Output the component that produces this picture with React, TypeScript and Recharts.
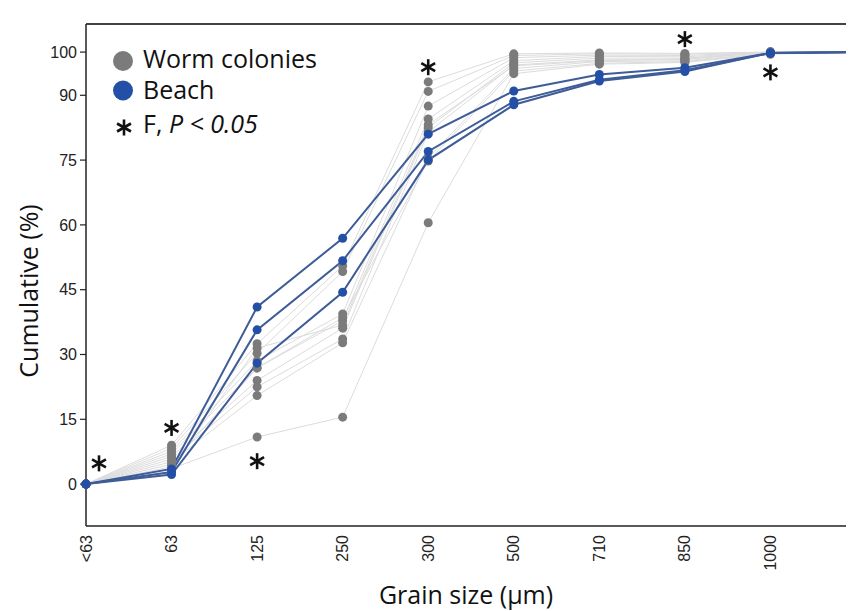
import React from 'react';
import { ComposedChart, Line, XAxis, YAxis, ReferenceLine, Label, Legend } from 'recharts';

const grainSizes = ['<63', '63', '125', '250', '300', '500', '710', '850', '1000', '2000'];

const worm1 = [0, 9.0, 32.5, 50.5, 93.1, 99.6, 99.8, 99.7, 100, 100];
const worm2 = [0, 8.3, 30.3, 49.2, 90.9, 99.2, 99.6, 99.5, 100, 100];
const worm3 = [0, 7.6, 28.5, 39.4, 87.5, 98.7, 99.3, 99.2, 100, 100];
const worm4 = [0, 7.0, 26.9, 37.8, 84.5, 98.0, 99.0, 98.9, 100, 100];
const worm5 = [0, 6.4, 24.0, 36.1, 82.5, 97.5, 98.6, 98.6, 100, 100];
const worm6 = [0, 5.8, 22.5, 33.6, 81.5, 97.0, 98.2, 98.3, 100, 100];
const worm7 = [0, 5.2, 20.5, 32.7, 75.5, 96.2, 97.8, 98.0, 99.8, 100];
const worm8 = [0, 4.6, 26.9, 38.5, 74.8, 95.6, 97.4, 97.8, 99.7, 100];
const worm9 = [0, 4.0, 31.5, 36.8, 83.2, 96.8, 98.0, 98.4, 100, 100];
const worm10 = [0, 3.6, 10.9, 15.5, 60.5, 95.0, 97.2, 97.6, 99.5, 100];

const beach1 = [0, 3.5, 41.0, 56.9, 81.0, 91.0, 94.8, 96.4, 99.8, 100];
const beach2 = [0, 2.8, 35.7, 51.7, 77.0, 88.6, 93.6, 95.8, 99.8, 100];
const beach3 = [0, 2.2, 28.0, 44.4, 75.0, 87.8, 93.3, 95.5, 99.8, 100];

const starValues = [4.8, 13, 5.3, null, 96.5, null, null, 103, 95.3, null];

const yTicks = [0, 15, 30, 45, 60, 75, 90, 100];
const yDomain = [-9.7, 106.5];

const wormSeries = [worm1, worm2, worm3, worm4, worm5, worm6, worm7, worm8, worm9, worm10];
const beachSeries = [beach1, beach2, beach3];

const data = grainSizes.map((size, i) => {
  const row: any = { size, star: starValues[i] };
  wormSeries.forEach((s, k) => (row[`w${k}`] = s[i]));
  beachSeries.forEach((s, k) => (row[`b${k}`] = s[i]));
  return row;
});

const GRAY_DOT = '#7b7b7b';
const GRAY_LINE = '#dcdcdc';
const BLUE_DOT = '#2350a6';
const BLUE_LINE = '#3e5c98';
const TITLE_FONT = '"Open Sans", "Noto Sans", sans-serif';
const TICK_FONT = '"Liberation Sans", Arial, sans-serif';

const Asterisk = ({ x, y, r = 8 }: { x: number; y: number; r?: number }) => {
  const c = Math.cos(Math.PI / 6) * r;
  const s = Math.sin(Math.PI / 6) * r;
  return (
    <g stroke="#111" strokeWidth={2.6} strokeLinecap="butt">
      <line x1={x} y1={y - r} x2={x} y2={y + r} />
      <line x1={x - c} y1={y - s} x2={x + c} y2={y + s} />
      <line x1={x - c} y1={y + s} x2={x + c} y2={y - s} />
    </g>
  );
};

const StarDot = (props: any) => {
  const { cx, cy, payload, index } = props;
  if (cx == null || cy == null || payload == null || payload.star == null) return <g key={`s${index}`} />;
  const dx = payload.size === '<63' ? 13 : 0;
  return (
    <g key={`s${index}`}>
      <Asterisk x={cx + dx} y={cy} />
    </g>
  );
};

const XTick = (props: any) => {
  const { x, y, payload } = props;
  return (
    <g transform={`translate(${x},${y + 9})`}>
      <text
        x={0}
        y={0}
        dy="0.35em"
        transform="rotate(-90)"
        textAnchor="end"
        fontSize={16}
        fontFamily={TICK_FONT}
        fill="#222"
      >
        {payload.value}
      </text>
    </g>
  );
};

const LegendContent = () => (
  <svg width={260} height={110} style={{ display: 'block' }}>
    <circle cx={23} cy={21} r={10} fill={GRAY_DOT} />
    <text x={43} y={28} fontSize={25} fontFamily={TITLE_FONT} fill="#111">
      Worm colonies
    </text>
    <circle cx={23} cy={50.5} r={10} fill={BLUE_DOT} />
    <text x={43} y={59} fontSize={25} fontFamily={TITLE_FONT} fill="#111">
      Beach
    </text>
    <Asterisk x={24} y={87.5} />
    <text x={43} y={93} fontSize={25} fontFamily={TITLE_FONT} fill="#111">
      F, <tspan fontStyle="italic">P &lt; 0.05</tspan>
    </text>
  </svg>
);

export default function App() {
  return (
    <div style={{ position: 'relative', width: 846, height: 603, overflow: 'hidden', background: '#fff' }}>
      <ComposedChart
        width={868}
        height={603}
        data={data}
        margin={{ top: 16, right: 20, bottom: 0, left: 0 }}
      >
        <XAxis
          dataKey="size"
          type="category"
          interval={0}
          tick={<XTick />}
          tickLine={false}
          tickSize={0}
          tickMargin={0}
          height={85}
          axisLine={{ stroke: '#222', strokeWidth: 1.5 }}
        >
          <Label
            content={() => (
              <text x={458} y={596} textAnchor="middle" fontSize={25} fontFamily={TITLE_FONT} fill="#111">
                Grain size (µm)
              </text>
            )}
          />
        </XAxis>
        <YAxis
          type="number"
          domain={yDomain}
          ticks={yTicks}
          allowDataOverflow
          width={78}
          tickSize={6}
          tickMargin={3}
          tick={{ fontSize: 16, fontFamily: TICK_FONT, fill: '#222' }}
          tickLine={{ stroke: '#222', strokeWidth: 1.2 }}
          axisLine={{ stroke: '#222', strokeWidth: 1.5 }}
        >
          <Label
            content={() => (
              <text
                x={20}
                y={283}
                transform="rotate(-90 20 283)"
                textAnchor="middle"
                dominantBaseline="central"
                fontSize={25}
                fontFamily={TITLE_FONT}
                fill="#111"
              >
                Cumulative (%)
              </text>
            )}
          />
        </YAxis>
        <ReferenceLine y={yDomain[1]} stroke="#444" strokeWidth={2} ifOverflow="extendDomain" />
        <Legend
          layout="horizontal"
          verticalAlign="middle"
          align="center"
          wrapperStyle={{ top: 32, left: 92, width: 260, height: 110 }}
          content={<LegendContent />}
        />
        {wormSeries.map((_, k) => (
          <Line
            key={`wl${k}`}
            dataKey={`w${k}`}
            stroke={GRAY_LINE}
            strokeWidth={1}
            dot={false}
            activeDot={false}
            isAnimationActive={false}
            legendType="none"
          />
        ))}
        {wormSeries.map((_, k) => (
          <Line
            key={`wd${k}`}
            dataKey={`w${k}`}
            stroke="none"
            dot={{ r: 4.5, fill: GRAY_DOT, stroke: 'none' }}
            activeDot={false}
            isAnimationActive={false}
            legendType="none"
          />
        ))}
        {beachSeries.map((_, k) => (
          <Line
            key={`bl${k}`}
            dataKey={`b${k}`}
            stroke={BLUE_LINE}
            strokeWidth={2}
            dot={{ r: 4.5, fill: BLUE_DOT, stroke: 'none' }}
            activeDot={false}
            isAnimationActive={false}
            legendType="none"
          />
        ))}
        <Line
          dataKey="star"
          stroke="none"
          dot={<StarDot />}
          activeDot={false}
          isAnimationActive={false}
          legendType="none"
          connectNulls={false}
        />
      </ComposedChart>
    </div>
  );
}
